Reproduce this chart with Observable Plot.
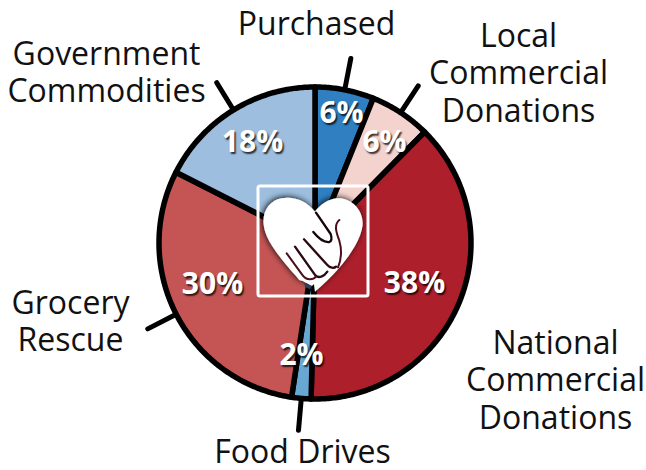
<!DOCTYPE html>
<html>
<head>
<meta charset="utf-8">
<script src="https://cdn.jsdelivr.net/npm/d3@7"></script>
<script src="https://cdn.jsdelivr.net/npm/@observablehq/plot@0.6"></script>
<style>
html,body{margin:0;padding:0;background:#fff}
svg{display:block}
.pct text{text-shadow:1.5px 1.5px 1.5px rgba(0,0,0,.75)}
</style>
</head>
<body>
<div id="chart"></div>
<script>
const categories = ["Purchased","Local Commercial Donations","National Commercial Donations","Food Drives","Grocery Rescue","Government Commodities"];
const values = [6.1,6.3,38,2,30.1,17.5];
const colors = ["#2f7fc1","#f4d3ce","#ad1f2b","#69a7d3","#c45554","#9dbede"];
const labels = ["Purchased","Local\nCommercial\nDonations","National\nCommercial\nDonations","Food Drives","Grocery\nRescue","Government\nCommodities"];
const pctLabels = ["6%","6%","38%","2%","30%","18%"];
const hasLeader = [true,true,false,true,true,true];
const labelX = [316,518,555,302,70,106];
const labelY = [23,72,379,451,320,71];
const pctX = [341,384,414,301,212,252];
const pctY = [113,142,283,355,284,142];

const W = 646, H = 470, cx = 314.5, cy = 242.5, R = 156, Rtick = 188;
const polar = (a, r) => ({x: cx + r*Math.sin(a), y: cy - r*Math.cos(a)});
const total = d3.sum(values);
const cum = d3.cumsum(values);
const slicePts = [];
categories.forEach((name,i) => {
  const a0 = 2*Math.PI*(cum[i]-values[i])/total, a1 = 2*Math.PI*cum[i]/total;
  const n = Math.max(2, Math.ceil((a1-a0)*90));
  slicePts.push({name, ...polar(0,0)});
  for (let k=0;k<=n;k++) slicePts.push({name, ...polar(a0+(a1-a0)*k/n, R)});
  slicePts.push({name, ...polar(0,0)});
});
const leaders = categories.map((name,i)=>{
  const a = 2*Math.PI*(cum[i]-values[i]/2)/total;
  const p = polar(a,R), q = polar(a,Rtick);
  return {name, x1:p.x, y1:p.y, x2:q.x, y2:q.y};
}).filter((d,i)=>hasLeader[i]);

const iconSvg = `<svg xmlns="http://www.w3.org/2000/svg" viewBox="0 0 450 420" width="150" height="140">
<defs><filter id="s" x="-30%" y="-30%" width="160%" height="160%"><feDropShadow dx="-3" dy="-2" stdDeviation="9" flood-color="#000" flood-opacity=".95"/></filter></defs>
<path filter="url(#s)" fill="#fff" d="M225 125C200 92 160 78 125 85C85 92 64 130 72 170C78 215 130 275 168 318L178 330L190 334L215 348L222 342L225 365C290 310 360 230 368 165C370 115 330 85 295 85C265 85 240 105 225 125Z"/>
<g fill="none" stroke-linecap="round" stroke-linejoin="round">
<path stroke="#160609" stroke-width="7" d="M228 128L272 192C276 205 274 214 268 216C252 218 236 206 220 186"/>
<path stroke="#2a0a10" stroke-width="7" d="M192 208L262 285C270 294 282 296 288 290"/>
<path stroke="#2a0a10" stroke-width="7" d="M165 230L226 316C236 326 252 320 262 305"/>
<path stroke="#4a0f1b" stroke-width="6" d="M140 250L188 316C200 332 220 330 228 320"/>
<path stroke="#4a0f1b" stroke-width="6" d="M298 150C280 165 290 190 298 212C306 240 304 268 294 292"/>
</g>
<path fill="#2b3f5a" d="M192 338L216 348L210 358L196 352Z"/>
</svg>`;
const iconSrc = "data:image/svg+xml," + encodeURIComponent(iconSvg);

const idx = d3.range(categories.length);
const chart = Plot.plot({
  width: W, height: H, margin: 0,
  x: {domain:[0,W], range:[0,W], axis:null},
  y: {domain:[0,H], range:[0,H], axis:null},
  color: {domain:categories, range:colors},
  style: {background:"#fff", fontFamily:"'Open Sans',sans-serif"},
  marks: [
    Plot.link(leaders, {x1:"x1",y1:"y1",x2:"x2",y2:"y2",stroke:"#000",strokeWidth:5,strokeLinecap:"round"}),
    Plot.line(slicePts, {x:"x",y:"y",z:"name",fill:"name",stroke:"#000",strokeWidth:5.5,strokeLinejoin:"round"}),
    Plot.image([0], {x:()=>cx,y:()=>cy-3,src:()=>iconSrc,width:150,height:140}),
    Plot.rect([0], {x1:()=>258,x2:()=>368,y1:()=>186,y2:()=>296,fill:"none",stroke:"#fff",strokeWidth:3,rx:2}),
    Plot.text(idx, {x:i=>labelX[i],y:i=>labelY[i],text:i=>labels[i],fontSize:32,lineHeight:1.17,fill:"#111",textAnchor:"middle"}),
    Plot.text(idx, {x:i=>pctX[i],y:i=>pctY[i],text:i=>pctLabels[i],fontSize:30,fontWeight:700,fill:"#fff",textAnchor:"middle",className:"pct"})
  ]
});
document.getElementById("chart").appendChild(chart);
</script>
</body>
</html>
